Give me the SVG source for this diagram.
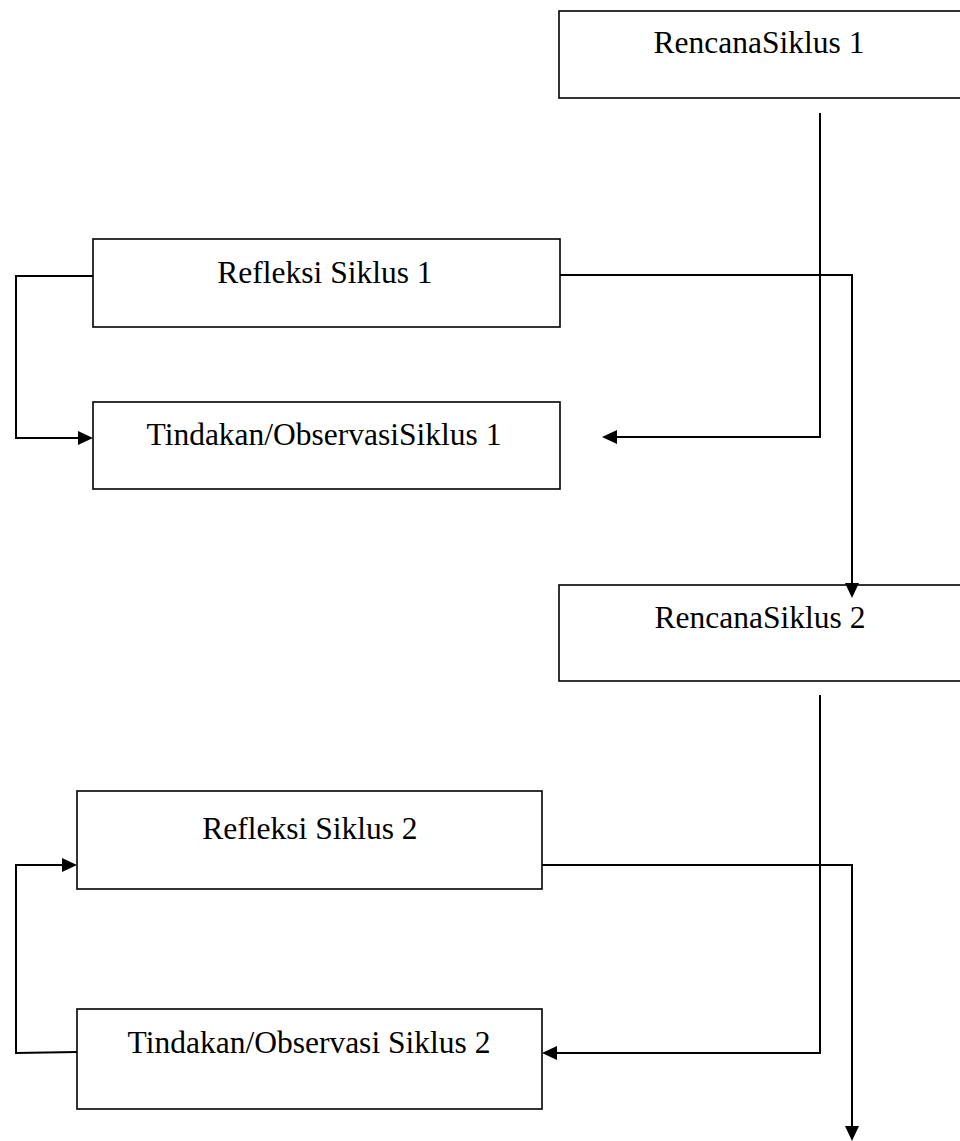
<svg xmlns="http://www.w3.org/2000/svg" width="960" height="1141" viewBox="0 0 960 1141">
<style>
.box{fill:#fff;stroke:#000;stroke-width:1.6}
.lbl{font-family:"Liberation Serif","Times New Roman",serif;font-size:31.5px;fill:#000;text-anchor:middle}
.con{fill:none;stroke:#000;stroke-width:2}
.ah{fill:#000}
</style>
<g id="rencana1"><rect class="box" x="559" y="11" width="410" height="87"/><text class="lbl" x="759" y="53">RencanaSiklus 1</text></g>
<g id="refleksi1"><rect class="box" x="93" y="239" width="467" height="88"/><text class="lbl" x="325" y="283">Refleksi Siklus 1</text></g>
<g id="tindakan1"><rect class="box" x="93" y="402" width="467" height="87"/><text class="lbl" x="324" y="445">Tindakan/ObservasiSiklus 1</text></g>
<g id="rencana2"><rect class="box" x="559" y="585" width="410" height="96"/><text class="lbl" x="760" y="628">RencanaSiklus 2</text></g>
<g id="refleksi2"><rect class="box" x="77" y="791" width="465" height="98"/><text class="lbl" x="310" y="839">Refleksi Siklus 2</text></g>
<g id="tindakan2"><rect class="box" x="77" y="1009" width="465" height="100"/><text class="lbl" x="309" y="1053">Tindakan/Observasi Siklus 2</text></g>
<g id="connectors">
<path class="con" d="M93,276 H16 V438 H78"/>
<path class="ah" d="M78,431 L93,438 L78,445 z"/>
<path class="con" d="M820,113 V437 H617"/>
<path class="ah" d="M617,430 L602,437 L617,444 z"/>
<path class="con" d="M560,275 H852 V583"/>
<path class="ah" d="M845,583 L852,598 L859,583 z"/>
<path class="con" d="M820,695 V1053 H557"/>
<path class="ah" d="M557,1046 L542,1053 L557,1060 z"/>
<path class="con" d="M542,865 H852 V1126"/>
<path class="ah" d="M845,1126 L852,1141 L859,1126 z"/>
<path class="con" d="M77,1052 L16,1053 V865 H62"/>
<path class="ah" d="M62,858 L77,865 L62,872 z"/>
</g>
</svg>
